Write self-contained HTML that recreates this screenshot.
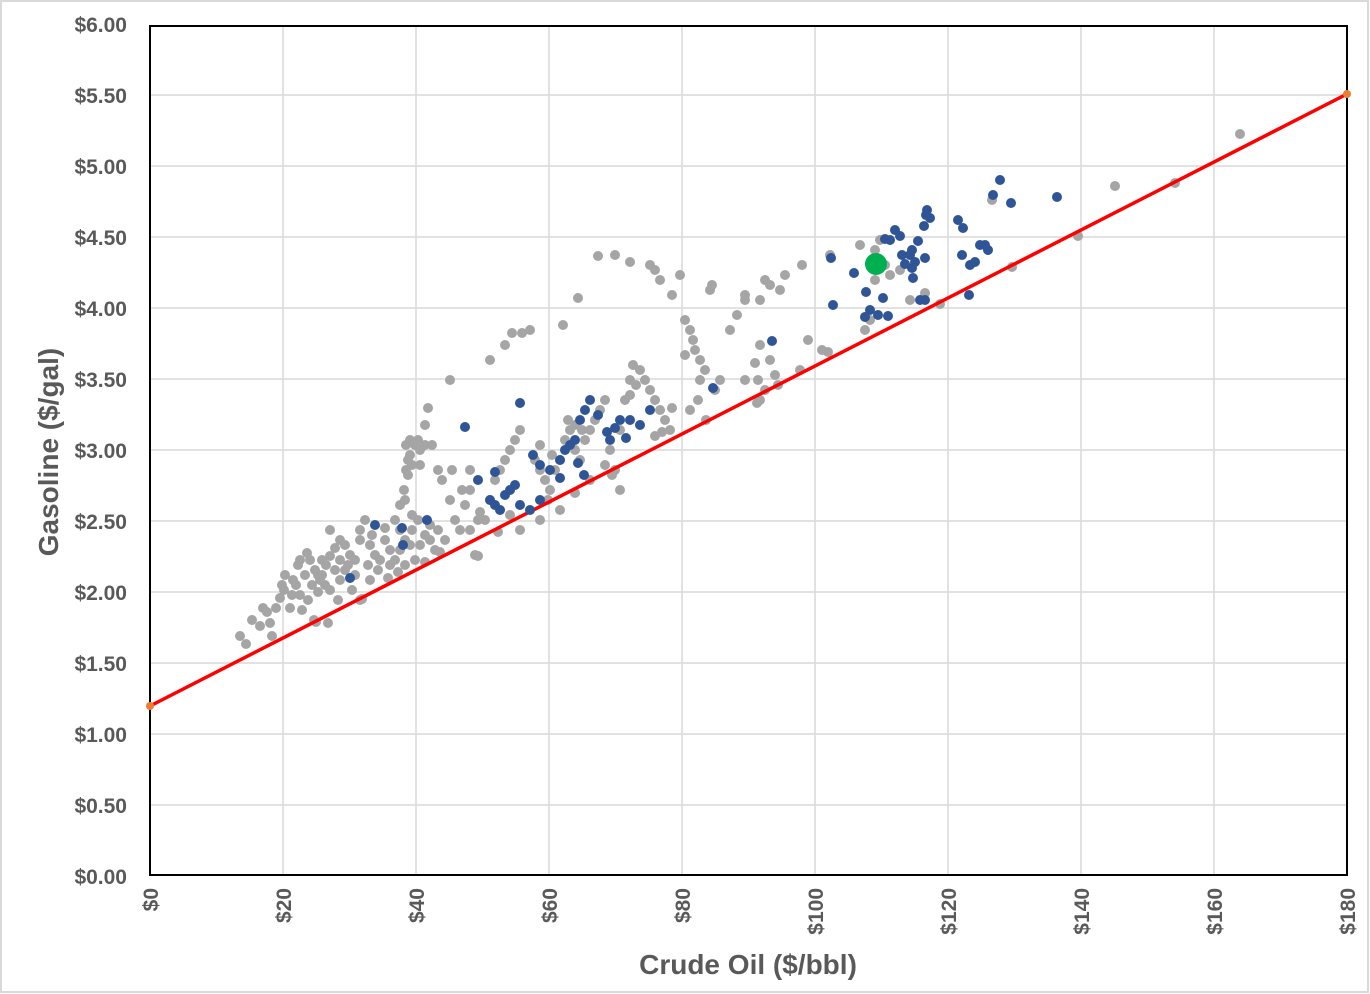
<!DOCTYPE html>
<html><head><meta charset="utf-8"><style>
body{margin:0;background:#fff}
svg{display:block}
text{font-family:"Liberation Sans",sans-serif;font-weight:bold;fill:#595959}
</style></head><body>
<svg width="1370" height="994" xmlns="http://www.w3.org/2000/svg">
<rect x="1" y="1" width="1367" height="991" fill="#fff" stroke="#d9d9d9" stroke-width="2"/>
<g stroke="#d9d9d9" stroke-width="1.5">
<line x1="150" x2="1347" y1="95" y2="95"/><line x1="150" x2="1347" y1="166" y2="166"/><line x1="150" x2="1347" y1="237" y2="237"/><line x1="150" x2="1347" y1="308" y2="308"/><line x1="150" x2="1347" y1="379" y2="379"/><line x1="150" x2="1347" y1="450" y2="450"/><line x1="150" x2="1347" y1="521" y2="521"/><line x1="150" x2="1347" y1="592" y2="592"/><line x1="150" x2="1347" y1="663" y2="663"/><line x1="150" x2="1347" y1="734" y2="734"/><line x1="150" x2="1347" y1="805" y2="805"/>
<line y1="26" y2="875" x1="283" x2="283"/><line y1="26" y2="875" x1="416" x2="416"/><line y1="26" y2="875" x1="549" x2="549"/><line y1="26" y2="875" x1="682" x2="682"/><line y1="26" y2="875" x1="815" x2="815"/><line y1="26" y2="875" x1="948" x2="948"/><line y1="26" y2="875" x1="1081" x2="1081"/><line y1="26" y2="875" x1="1214" x2="1214"/>
</g>
<rect x="150" y="26" width="1197" height="849" fill="none" stroke="#000" stroke-width="2"/>
<g font-size="21" text-anchor="end">
<text x="127" y="32">$6.00</text><text x="127" y="103">$5.50</text><text x="127" y="174">$5.00</text><text x="127" y="245">$4.50</text><text x="127" y="316">$4.00</text><text x="127" y="387">$3.50</text><text x="127" y="458">$3.00</text><text x="127" y="529">$2.50</text><text x="127" y="600">$2.00</text><text x="127" y="671">$1.50</text><text x="127" y="742">$1.00</text><text x="127" y="813">$0.50</text><text x="127" y="884">$0.00</text>
</g>
<g font-size="21" text-anchor="end">
<text transform="translate(158,888) rotate(-90)">$0</text><text transform="translate(291,888) rotate(-90)">$20</text><text transform="translate(424,888) rotate(-90)">$40</text><text transform="translate(557,888) rotate(-90)">$60</text><text transform="translate(690,888) rotate(-90)">$80</text><text transform="translate(823,888) rotate(-90)">$100</text><text transform="translate(956,888) rotate(-90)">$120</text><text transform="translate(1089,888) rotate(-90)">$140</text><text transform="translate(1222,888) rotate(-90)">$160</text><text transform="translate(1355,888) rotate(-90)">$180</text>
</g>
<text x="748" y="974" font-size="28" text-anchor="middle">Crude Oil ($/bbl)</text>
<text transform="translate(58,452) rotate(-90)" font-size="28" text-anchor="middle">Gasoline ($/gal)</text>
<g fill="#a5a5a5">
<circle cx="240" cy="636" r="5"/><circle cx="246" cy="644" r="5"/><circle cx="260" cy="626" r="5"/><circle cx="263" cy="608" r="5"/><circle cx="267" cy="612" r="5"/><circle cx="272" cy="636" r="5"/><circle cx="276" cy="608" r="5"/><circle cx="282" cy="585" r="5"/><circle cx="284" cy="590" r="5"/><circle cx="290" cy="608" r="5"/><circle cx="280" cy="598" r="5"/><circle cx="300" cy="595" r="5"/><circle cx="307" cy="553" r="5"/><circle cx="310" cy="560" r="5"/><circle cx="315" cy="570" r="5"/><circle cx="318" cy="575" r="5"/><circle cx="320" cy="580" r="5"/><circle cx="325" cy="585" r="5"/><circle cx="330" cy="530" r="5"/><circle cx="335" cy="548" r="5"/><circle cx="340" cy="560" r="5"/><circle cx="345" cy="570" r="5"/><circle cx="350" cy="555" r="5"/><circle cx="355" cy="560" r="5"/><circle cx="360" cy="540" r="5"/><circle cx="365" cy="520" r="5"/><circle cx="370" cy="545" r="5"/><circle cx="375" cy="555" r="5"/><circle cx="380" cy="560" r="5"/><circle cx="385" cy="540" r="5"/><circle cx="390" cy="550" r="5"/><circle cx="395" cy="560" r="5"/><circle cx="400" cy="550" r="5"/><circle cx="405" cy="540" r="5"/><circle cx="410" cy="545" r="5"/><circle cx="415" cy="560" r="5"/><circle cx="420" cy="545" r="5"/><circle cx="425" cy="535" r="5"/><circle cx="430" cy="540" r="5"/><circle cx="435" cy="550" r="5"/><circle cx="440" cy="552" r="5"/><circle cx="445" cy="540" r="5"/><circle cx="308" cy="600" r="5"/><circle cx="314" cy="620" r="5"/><circle cx="330" cy="590" r="5"/><circle cx="340" cy="580" r="5"/><circle cx="360" cy="600" r="5"/><circle cx="388" cy="578" r="5"/><circle cx="395" cy="520" r="5"/><circle cx="400" cy="505" r="5"/><circle cx="404" cy="490" r="5"/><circle cx="406" cy="470" r="5"/><circle cx="408" cy="460" r="5"/><circle cx="406" cy="445" r="5"/><circle cx="410" cy="440" r="5"/><circle cx="415" cy="445" r="5"/><circle cx="420" cy="450" r="5"/><circle cx="425" cy="445" r="5"/><circle cx="428" cy="408" r="5"/><circle cx="425" cy="425" r="5"/><circle cx="432" cy="445" r="5"/><circle cx="438" cy="470" r="5"/><circle cx="442" cy="480" r="5"/><circle cx="450" cy="380" r="5"/><circle cx="450" cy="500" r="5"/><circle cx="455" cy="520" r="5"/><circle cx="460" cy="530" r="5"/><circle cx="465" cy="505" r="5"/><circle cx="470" cy="490" r="5"/><circle cx="475" cy="555" r="5"/><circle cx="480" cy="512" r="5"/><circle cx="485" cy="520" r="5"/><circle cx="490" cy="500" r="5"/><circle cx="495" cy="480" r="5"/><circle cx="500" cy="470" r="5"/><circle cx="505" cy="460" r="5"/><circle cx="510" cy="450" r="5"/><circle cx="515" cy="440" r="5"/><circle cx="520" cy="430" r="5"/><circle cx="490" cy="360" r="5"/><circle cx="505" cy="345" r="5"/><circle cx="512" cy="333" r="5"/><circle cx="522" cy="333" r="5"/><circle cx="530" cy="330" r="5"/><circle cx="535" cy="460" r="5"/><circle cx="540" cy="470" r="5"/><circle cx="545" cy="480" r="5"/><circle cx="550" cy="490" r="5"/><circle cx="555" cy="470" r="5"/><circle cx="560" cy="460" r="5"/><circle cx="565" cy="440" r="5"/><circle cx="568" cy="420" r="5"/><circle cx="570" cy="430" r="5"/><circle cx="575" cy="450" r="5"/><circle cx="580" cy="460" r="5"/><circle cx="585" cy="440" r="5"/><circle cx="590" cy="430" r="5"/><circle cx="595" cy="420" r="5"/><circle cx="600" cy="410" r="5"/><circle cx="605" cy="400" r="5"/><circle cx="610" cy="450" r="5"/><circle cx="615" cy="470" r="5"/><circle cx="620" cy="430" r="5"/><circle cx="625" cy="400" r="5"/><circle cx="630" cy="380" r="5"/><circle cx="633" cy="365" r="5"/><circle cx="640" cy="370" r="5"/><circle cx="645" cy="380" r="5"/><circle cx="650" cy="390" r="5"/><circle cx="655" cy="400" r="5"/><circle cx="660" cy="410" r="5"/><circle cx="665" cy="420" r="5"/><circle cx="670" cy="430" r="5"/><circle cx="563" cy="325" r="5"/><circle cx="578" cy="298" r="5"/><circle cx="598" cy="256" r="5"/><circle cx="615" cy="255" r="5"/><circle cx="630" cy="262" r="5"/><circle cx="650" cy="265" r="5"/><circle cx="655" cy="270" r="5"/><circle cx="660" cy="280" r="5"/><circle cx="672" cy="295" r="5"/><circle cx="680" cy="275" r="5"/><circle cx="685" cy="320" r="5"/><circle cx="690" cy="330" r="5"/><circle cx="693" cy="340" r="5"/><circle cx="695" cy="350" r="5"/><circle cx="700" cy="360" r="5"/><circle cx="705" cy="370" r="5"/><circle cx="710" cy="290" r="5"/><circle cx="712" cy="285" r="5"/><circle cx="700" cy="380" r="5"/><circle cx="698" cy="400" r="5"/><circle cx="706" cy="420" r="5"/><circle cx="715" cy="390" r="5"/><circle cx="720" cy="380" r="5"/><circle cx="730" cy="330" r="5"/><circle cx="737" cy="315" r="5"/><circle cx="745" cy="300" r="5"/><circle cx="745" cy="295" r="5"/><circle cx="760" cy="300" r="5"/><circle cx="765" cy="280" r="5"/><circle cx="770" cy="285" r="5"/><circle cx="780" cy="290" r="5"/><circle cx="785" cy="275" r="5"/><circle cx="760" cy="345" r="5"/><circle cx="770" cy="360" r="5"/><circle cx="775" cy="375" r="5"/><circle cx="758" cy="380" r="5"/><circle cx="765" cy="390" r="5"/><circle cx="760" cy="400" r="5"/><circle cx="800" cy="370" r="5"/><circle cx="808" cy="340" r="5"/><circle cx="802" cy="265" r="5"/><circle cx="830" cy="255" r="5"/><circle cx="860" cy="245" r="5"/><circle cx="875" cy="250" r="5"/><circle cx="880" cy="240" r="5"/><circle cx="885" cy="265" r="5"/><circle cx="865" cy="330" r="5"/><circle cx="870" cy="320" r="5"/><circle cx="875" cy="280" r="5"/><circle cx="890" cy="275" r="5"/><circle cx="900" cy="270" r="5"/><circle cx="910" cy="300" r="5"/><circle cx="925" cy="293" r="5"/><circle cx="940" cy="304" r="5"/><circle cx="1012" cy="267" r="5"/><circle cx="992" cy="200" r="5"/><circle cx="1078" cy="236" r="5"/><circle cx="1115" cy="186" r="5"/><circle cx="1175" cy="183" r="5"/><circle cx="1240" cy="134" r="5"/><circle cx="828" cy="352" r="5"/><circle cx="822" cy="350" r="5"/><circle cx="757" cy="403" r="5"/><circle cx="778" cy="385" r="5"/><circle cx="755" cy="363" r="5"/><circle cx="745" cy="380" r="5"/><circle cx="690" cy="410" r="5"/><circle cx="672" cy="408" r="5"/><circle cx="685" cy="355" r="5"/><circle cx="655" cy="436" r="5"/><circle cx="662" cy="432" r="5"/><circle cx="620" cy="490" r="5"/><circle cx="612" cy="475" r="5"/><circle cx="605" cy="465" r="5"/><circle cx="590" cy="480" r="5"/><circle cx="575" cy="493" r="5"/><circle cx="560" cy="510" r="5"/><circle cx="548" cy="500" r="5"/><circle cx="540" cy="520" r="5"/><circle cx="520" cy="530" r="5"/><circle cx="510" cy="515" r="5"/><circle cx="498" cy="532" r="5"/><circle cx="478" cy="520" r="5"/><circle cx="470" cy="530" r="5"/><circle cx="360" cy="530" r="5"/><circle cx="340" cy="540" r="5"/><circle cx="330" cy="556" r="5"/><circle cx="322" cy="560" r="5"/><circle cx="300" cy="560" r="5"/><circle cx="298" cy="565" r="5"/><circle cx="293" cy="580" r="5"/><circle cx="285" cy="575" r="5"/><circle cx="270" cy="623" r="5"/><circle cx="252" cy="620" r="5"/><circle cx="328" cy="623" r="5"/><circle cx="362" cy="599" r="5"/><circle cx="316" cy="622" r="5"/><circle cx="412" cy="515" r="5"/><circle cx="478" cy="556" r="5"/><circle cx="420" cy="465" r="5"/><circle cx="400" cy="530" r="5"/><circle cx="405" cy="565" r="5"/><circle cx="425" cy="562" r="5"/>
<circle cx="305" cy="575" r="5"/><circle cx="312" cy="585" r="5"/><circle cx="322" cy="575" r="5"/><circle cx="335" cy="570" r="5"/><circle cx="348" cy="565" r="5"/><circle cx="355" cy="575" r="5"/><circle cx="368" cy="565" r="5"/><circle cx="378" cy="570" r="5"/><circle cx="390" cy="565" r="5"/><circle cx="398" cy="572" r="5"/><circle cx="345" cy="545" r="5"/><circle cx="372" cy="535" r="5"/><circle cx="385" cy="528" r="5"/><circle cx="412" cy="530" r="5"/><circle cx="418" cy="520" r="5"/><circle cx="430" cy="525" r="5"/><circle cx="438" cy="530" r="5"/><circle cx="410" cy="455" r="5"/><circle cx="412" cy="465" r="5"/><circle cx="408" cy="475" r="5"/><circle cx="418" cy="440" r="5"/><circle cx="405" cy="500" r="5"/><circle cx="326" cy="565" r="5"/><circle cx="318" cy="592" r="5"/><circle cx="296" cy="585" r="5"/><circle cx="302" cy="610" r="5"/><circle cx="292" cy="595" r="5"/><circle cx="338" cy="600" r="5"/><circle cx="352" cy="590" r="5"/><circle cx="370" cy="580" r="5"/><circle cx="462" cy="490" r="5"/><circle cx="452" cy="470" r="5"/><circle cx="470" cy="470" r="5"/><circle cx="540" cy="445" r="5"/><circle cx="552" cy="455" r="5"/><circle cx="575" cy="425" r="5"/><circle cx="582" cy="430" r="5"/><circle cx="630" cy="395" r="5"/><circle cx="636" cy="385" r="5"/>
</g>
<line x1="150" y1="706" x2="1347" y2="94" stroke="#ff0000" stroke-width="3.5"/>
<circle cx="150" cy="706" r="4" fill="#ed7d31"/><circle cx="1347" cy="94" r="4" fill="#ed7d31"/>
<g fill="#2f5597">
<circle cx="350" cy="578" r="5"/><circle cx="375" cy="525" r="5"/><circle cx="403" cy="545" r="5"/><circle cx="402" cy="528" r="5"/><circle cx="427" cy="520" r="5"/><circle cx="465" cy="427" r="5"/><circle cx="520" cy="403" r="5"/><circle cx="533" cy="455" r="5"/><circle cx="478" cy="480" r="5"/><circle cx="490" cy="500" r="5"/><circle cx="495" cy="505" r="5"/><circle cx="505" cy="495" r="5"/><circle cx="510" cy="490" r="5"/><circle cx="515" cy="485" r="5"/><circle cx="500" cy="510" r="5"/><circle cx="520" cy="505" r="5"/><circle cx="530" cy="510" r="5"/><circle cx="540" cy="500" r="5"/><circle cx="550" cy="470" r="5"/><circle cx="560" cy="460" r="5"/><circle cx="565" cy="450" r="5"/><circle cx="570" cy="445" r="5"/><circle cx="575" cy="440" r="5"/><circle cx="580" cy="420" r="5"/><circle cx="585" cy="410" r="5"/><circle cx="590" cy="400" r="5"/><circle cx="598" cy="415" r="5"/><circle cx="607" cy="432" r="5"/><circle cx="610" cy="440" r="5"/><circle cx="615" cy="428" r="5"/><circle cx="620" cy="420" r="5"/><circle cx="626" cy="438" r="5"/><circle cx="630" cy="420" r="5"/><circle cx="640" cy="425" r="5"/><circle cx="650" cy="410" r="5"/><circle cx="584" cy="475" r="5"/><circle cx="578" cy="463" r="5"/><circle cx="560" cy="478" r="5"/><circle cx="540" cy="465" r="5"/><circle cx="495" cy="472" r="5"/><circle cx="713" cy="388" r="5"/><circle cx="772" cy="341" r="5"/><circle cx="833" cy="305" r="5"/><circle cx="831" cy="258" r="5"/><circle cx="854" cy="273" r="5"/><circle cx="866" cy="292" r="5"/><circle cx="865" cy="317" r="5"/><circle cx="870" cy="310" r="5"/><circle cx="878" cy="315" r="5"/><circle cx="883" cy="298" r="5"/><circle cx="888" cy="316" r="5"/><circle cx="885" cy="239" r="5"/><circle cx="895" cy="230" r="5"/><circle cx="890" cy="240" r="5"/><circle cx="900" cy="236" r="5"/><circle cx="902" cy="255" r="5"/><circle cx="910" cy="255" r="5"/><circle cx="915" cy="262" r="5"/><circle cx="912" cy="250" r="5"/><circle cx="912" cy="268" r="5"/><circle cx="918" cy="241" r="5"/><circle cx="924" cy="226" r="5"/><circle cx="927" cy="210" r="5"/><circle cx="930" cy="218" r="5"/><circle cx="925" cy="258" r="5"/><circle cx="925" cy="300" r="5"/><circle cx="920" cy="300" r="5"/><circle cx="958" cy="220" r="5"/><circle cx="963" cy="228" r="5"/><circle cx="962" cy="255" r="5"/><circle cx="970" cy="265" r="5"/><circle cx="969" cy="295" r="5"/><circle cx="975" cy="262" r="5"/><circle cx="980" cy="245" r="5"/><circle cx="985" cy="245" r="5"/><circle cx="988" cy="250" r="5"/><circle cx="993" cy="195" r="5"/><circle cx="1000" cy="180" r="5"/><circle cx="1011" cy="203" r="5"/><circle cx="1057" cy="197" r="5"/><circle cx="926" cy="215" r="5"/><circle cx="905" cy="264" r="5"/><circle cx="913" cy="278" r="5"/>
</g>
<circle cx="876" cy="264" r="11" fill="#00b050"/>
</svg>
</body></html>
